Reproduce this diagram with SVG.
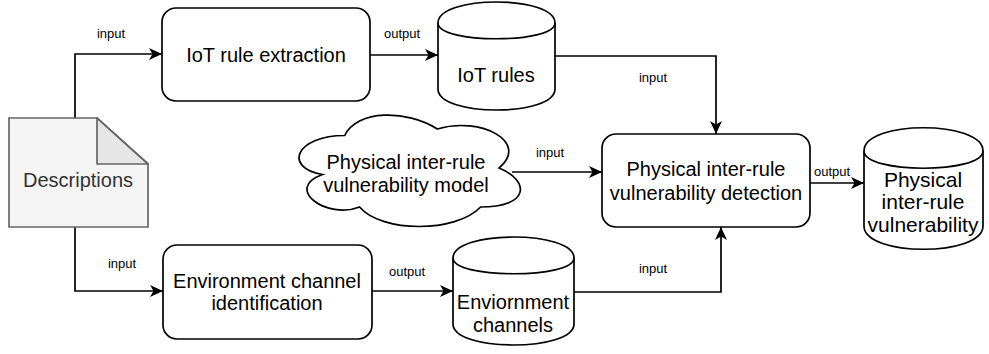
<svg xmlns="http://www.w3.org/2000/svg" width="989" height="354" viewBox="0 0 989 354">
<style>
.box{fill:#fff;stroke:#000;stroke-width:1.7}
.t{font-family:"Liberation Sans",Arial,sans-serif;font-size:20px;fill:#000;text-anchor:middle}
.lbl{font-family:"Liberation Sans",Arial,sans-serif;font-size:13px;fill:#000;text-anchor:middle}
.edge{fill:none;stroke:#000;stroke-width:1.7;marker-end:url(#arr)}
</style>
<defs>
<marker id="arr" markerUnits="userSpaceOnUse" markerWidth="14" markerHeight="12" refX="13" refY="6" orient="auto">
<path d="M0,0 L13,6 L0,12 L3.5,6 Z" fill="#000"/>
</marker>
</defs>
<rect width="989" height="354" fill="#fff"/>
<g id="connectors">
<path class="edge" d="M75,118 V54 H162"/>
<path class="edge" d="M370,55 H438"/>
<path class="edge" d="M555,56 H716 V134"/>
<path class="edge" d="M512,172 H602"/>
<path class="edge" d="M810,183 H864"/>
<path class="edge" d="M75,227 V291 H163"/>
<path class="edge" d="M372,291 H453"/>
<path class="edge" d="M574,292 H721 V227"/>
<text class="lbl" x="111" y="38">input</text>
<text class="lbl" x="402" y="38">output</text>
<text class="lbl" x="653" y="82">input</text>
<text class="lbl" x="550" y="157">input</text>
<text class="lbl" x="832" y="176">output</text>
<text class="lbl" x="122" y="268">input</text>
<text class="lbl" x="407" y="276">output</text>
<text class="lbl" x="653" y="273">input</text>
</g>
<g id="descriptions">
<path d="M9,118 H97 L148,164 V227 H9 Z" fill="#f5f5f5" stroke="#666" stroke-width="1.7"/>
<path d="M97,118 V164 H148 Z" fill="#e6e6e6" stroke="#666" stroke-width="1.7" stroke-linejoin="round"/>
<text class="t" x="78" y="187" style="fill:#333">Descriptions</text>
</g>
<g id="iot-rule-extraction">
<rect class="box" x="162" y="8" width="208" height="93" rx="14"/>
<text class="t" x="266" y="62">IoT rule extraction</text>
</g>
<g id="iot-rules">
<path class="box" d="M438,23 C438,-5 555,-5 555,23 V89 C555,117 438,117 438,89 Z"/>
<path class="box" d="M438,23 C438,44 555,44 555,23" fill="none"/>
<text class="t" x="496" y="82">IoT rules</text>
</g>
<g id="vulnerability-model">
<path class="box" d="M344.75,135.5 C295.35,135.5 283,168 322.52,174.5 C283,188.8 327.46,220 359.57,207 C381.8,233 455.9,233 480.6,207 C530,207 530,181 499.125,168 C530,142 480.6,116 437.375,129 C406.5,109.5 357.1,109.5 344.75,135.5 Z"/>
<text class="t" x="406" y="169">Physical inter-rule</text>
<text class="t" x="406" y="192">vulnerability model</text>
</g>
<g id="detection">
<rect class="box" x="602" y="134" width="208" height="93" rx="14"/>
<text class="t" x="706" y="176">Physical inter-rule</text>
<text class="t" x="706" y="200">vulnerability detection</text>
</g>
<g id="physical-vulnerability">
<path class="box" d="M864,151 C864,120 983,120 983,151 V226 C983,257 864,257 864,226 Z"/>
<path class="box" d="M864,151 C864,174 983,174 983,151" fill="none"/>
<text class="t" x="923" y="187" style="font-size:21px">Physical</text>
<text class="t" x="923" y="209" style="font-size:21px">inter-rule</text>
<text class="t" x="923" y="232" style="font-size:21px">vulnerability</text>
</g>
<g id="environment-identification">
<rect class="box" x="163" y="245" width="209" height="94" rx="14"/>
<text class="t" x="267" y="288">Environment channel</text>
<text class="t" x="267" y="310">identification</text>
</g>
<g id="environment-channels">
<path class="box" d="M453,258 C453,230 574,230 574,258 V324 C574,352 453,352 453,324 Z"/>
<path class="box" d="M453,258 C453,279 574,279 574,258" fill="none"/>
<text class="t" x="513" y="309">Enviornment</text>
<text class="t" x="513" y="332">channels</text>
</g>
</svg>
